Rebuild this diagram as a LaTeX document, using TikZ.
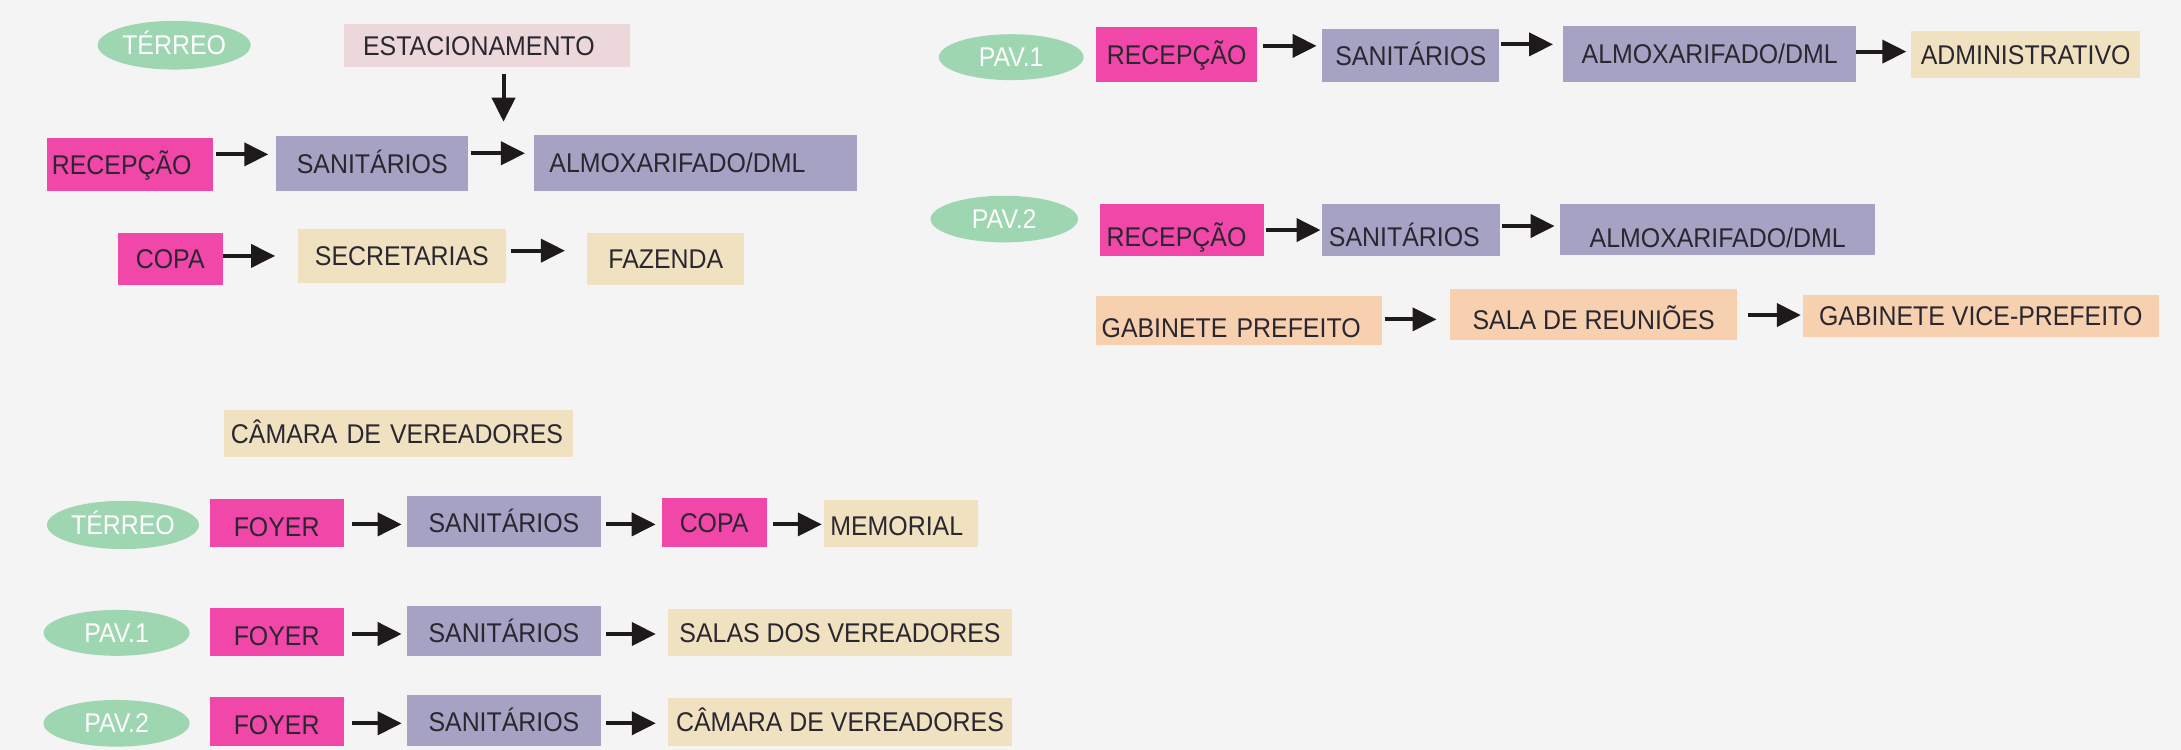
\documentclass[tikz,border=0pt]{standalone}
\usepackage{fontspec}
\setmainfont{Liberation Sans}[FakeStretch=0.92]
\usetikzlibrary{shapes.geometric,arrows.meta}

\definecolor{fundo}{HTML}{F4F4F4}
\definecolor{texto}{HTML}{2A2730}
\definecolor{preto}{HTML}{1E1A1B}
\definecolor{verde}{HTML}{9ED6B2}
\definecolor{rosa}{HTML}{F047A9}
\definecolor{lilas}{HTML}{A5A2C3}
\definecolor{bege}{HTML}{F0E2C0}
\definecolor{rosaclaro}{HTML}{ECD7DA}
\definecolor{pessego}{HTML}{F7D0B0}

\newcommand{\unid}{0.02782cm}

\tikzset{
        caixa/.style = { inner sep=0pt, text=texto, text height=11pt, text depth=0pt,
                         font=\fontsize{15.4pt}{18pt}\selectfont },
    pavimento/.style = { caixa, ellipse, fill=verde, text=white },
     recepcao/.style = { caixa, fill=rosa },
     servicos/.style = { caixa, fill=lilas },
      setores/.style = { caixa, fill=bege },
      externo/.style = { caixa, fill=rosaclaro },
     gabinete/.style = { caixa, fill=pessego },
          tam/.style 2 args = { minimum width=#1*\unid, minimum height=#2*\unid },
          esq/.style 2 args = { align=left, inner xsep=#2*\unid, text width=(#1-2*#2)*\unid },
        baixo/.style = { text height=#1 },
         seta/.style = { -{Triangle[length=0.48cm,width=0.46cm]}, line width=0.08cm, draw=preto,
                         shorten <=0.05cm, shorten >=0.1cm }
}

\begin{document}
\begin{tikzpicture}[x=\unid, y=-\unid]
  % fundo
  \fill[fundo] (0,0) rectangle (1568,539);
  \useasboundingbox (0,0) rectangle (1568,539);

  % prefeitura - terreo
  \node (ter1)  at(125.2,32.5)  [pavimento,tam={110}{35}]     {TÉRREO};
  \node (est)   at(350.4,32.7)  [externo,tam={205.5}{30.7},esq={205.5}{13.4}]  {ESTACIONAMENTO};
  \node (rec1)  at(93.4,118.4)  [recepcao,tam={119.2}{37.9},esq={119.2}{3.5}]  {RECEPÇÃO};
  \node (san1)  at(267.6,117.6) [servicos,tam={138.2}{39.5}]  {SANITÁRIOS};
  \node (alm1)  at(499.9,117.1) [servicos,tam={232.2}{40.5},esq={232.2}{11.2}] {ALMOXARIFADO/DML};
  \node (copa1) at(122.4,186.3) [recepcao,tam={75.5}{37.2}]   {COPA};
  \node (sec)   at(288.9,184.1) [setores,tam={149.4}{38.3}]   {SECRETARIAS};
  \node (faz)   at(478.7,186.1) [setores,tam={113}{37.6}]     {FAZENDA};
  \coordinate (alvo) at (362,87.5);

  \draw [seta,shorten <=0.14cm,shorten >=0pt] (est.south -| alvo) -- (alvo);
  \draw [seta,shorten >=0.15cm] (rec1.east |- 0,111) -- (san1.west |- 0,111);
  \draw [seta,shorten >=0.17cm] (san1.east |- 0,110.2) -- (alm1.west |- 0,110.2);
  \draw [seta,shorten <=0pt,shorten >=0.45cm] (copa1.east |- 0,184) -- (sec.west |- 0,184);
  \draw [seta,shorten <=0.1cm,shorten >=0.44cm] (sec.east |- 0,180.2) -- (faz.west |- 0,180.2);

  % prefeitura - pav.1
  \node (pav1)  at(727,41.1)    [pavimento,tam={104}{33}]     {PAV.1};
  \node (rec2)  at(846,39.5)    [recepcao,tam={116}{39.5}]    {RECEPÇÃO};
  \node (san2)  at(1014.2,40.1) [servicos,tam={126.9}{38.2}]  {SANITÁRIOS};
  \node (alm2)  at(1229.1,38.9) [servicos,tam={210.2}{40.7}]  {ALMOXARIFADO/DML};
  \node (adm)   at(1456.3,39.1) [setores,tam={164.6}{33.5}]   {ADMINISTRATIVO};

  \draw [seta,shorten <=0.11cm,shorten >=0.11cm] (rec2.east |- 0,33) -- (san2.west |- 0,33);
  \draw [seta,shorten <=0.03cm,shorten >=0.2cm] (san2.east |- 0,31.9) -- (alm2.west |- 0,31.9);
  \draw [seta,shorten <=0pt,shorten >=0.09cm] (alm2.east |- 0,37.1) -- (adm.west |- 0,37.1);

  % prefeitura - pav.2
  \node (pav2)  at(722,157.5)   [pavimento,tam={106}{33.5}]   {PAV.2};
  \node (rec3)  at(849.9,165.4) [recepcao,tam={118.2}{37.3},esq={118.2}{4.8},baixo=19pt] {RECEPÇÃO};
  \node (san3)  at(1014.7,165.4)[servicos,tam={128}{37.3},esq={128}{4.7},baixo=19pt]    {SANITÁRIOS};
  \node (alm3)  at(1234.9,165)  [servicos,tam={226.8}{36.6},baixo=20pt]  {ALMOXARIFADO/DML};
  \node (gab)   at(890.8,230.4) [gabinete,tam={205.6}{35.2},esq={205.6}{4},baixo=19pt] {GABINETE PREFEITO};
  \node (sala)  at(1145.7,226.2)[gabinete,tam={206.7}{36.4},baixo=17pt] {SALA DE REUNIÕES};
  \node (vice)  at(1424,227.3)  [gabinete,tam={256}{30.5}]    {GABINETE VICE-PREFEITO};

  \draw [seta,shorten <=0.03cm,shorten >=0.03cm] (rec3.east |- 0,165.4) -- (san3.west |- 0,165.4);
  \draw [seta,shorten <=0.03cm,shorten >=0.1cm] (san3.east |- 0,162.5) -- (alm3.west |- 0,162.5);
  \draw [seta,shorten <=0.05cm,shorten >=0.26cm] (gab.east |- 0,229.6) -- (sala.west |- 0,229.6);
  \draw [seta,shorten <=0.21cm,shorten >=0.03cm] (sala.east |- 0,226.5) -- (vice.west |- 0,226.5);

  % camara de vereadores
  \node (cam)   at(286.5,311.8) [setores,tam={250.3}{34},esq={250.3}{4.7}]     {CÂMARA DE VEREADORES};

  \node (ter2)  at(88.4,377.4)  [pavimento,tam={109.3}{34.7}] {TÉRREO};
  \node (foy1)  at(198.9,375.9) [recepcao,tam={96.3}{34.3},baixo=15pt]   {FOYER};
  \node (san4)  at(362.3,374.8) [servicos,tam={140.1}{36.4},baixo=13pt]  {SANITÁRIOS};
  \node (copa2) at(513.4,375.6) [recepcao,tam={75.6}{34.8}]   {COPA};
  \node (mem)   at(647.5,376.3) [setores,tam={110.7}{33.5},esq={110.7}{4.8},baixo=14pt] {MEMORIAL};

  \draw [seta,shorten <=0.16cm,shorten >=0.09cm] (foy1.east |- 0,377) -- (san4.west |- 0,377);
  \draw [seta,shorten <=0.09cm,shorten >=0.11cm] (san4.east |- 0,377) -- (copa2.west |- 0,377);
  \draw [seta,shorten <=0.11cm,shorten >=0.03cm] (copa2.east |- 0,377) -- (mem.west |- 0,377);

  \node (pav3)  at(83.8,455)    [pavimento,tam={105}{33}]     {PAV.1};
  \node (foy2)  at(198.9,454.5) [recepcao,tam={96.3}{34.3},baixo=15pt]   {FOYER};
  \node (san5)  at(362.3,453.5) [servicos,tam={140.1}{36.2},baixo=13pt]  {SANITÁRIOS};
  \node (salas) at(603.9,454.8) [setores,tam={247.8}{33.6}]   {SALAS DOS VEREADORES};

  \draw [seta,shorten <=0.16cm,shorten >=0.09cm] (foy2.east |- 0,455.8) -- (san5.west |- 0,455.8);
  \draw [seta,shorten <=0.09cm,shorten >=0.23cm] (san5.east |- 0,455.8) -- (salas.west |- 0,455.8);

  \node (pav4)  at(83.8,520)    [pavimento,tam={105}{33.6}]   {PAV.2};
  \node (foy3)  at(198.9,518.7) [recepcao,tam={96.3}{34.8},baixo=15pt]   {FOYER};
  \node (san6)  at(362.3,517.9) [servicos,tam={140.1}{36.5},baixo=13pt]  {SANITÁRIOS};
  \node (cam2)  at(603.9,519.1) [setores,tam={247.8}{34.1}]   {CÂMARA DE VEREADORES};

  \draw [seta,shorten <=0.16cm,shorten >=0.09cm] (foy3.east |- 0,520) -- (san6.west |- 0,520);
  \draw [seta,shorten <=0.09cm,shorten >=0.23cm] (san6.east |- 0,520) -- (cam2.west |- 0,520);
\end{tikzpicture}
\end{document}
